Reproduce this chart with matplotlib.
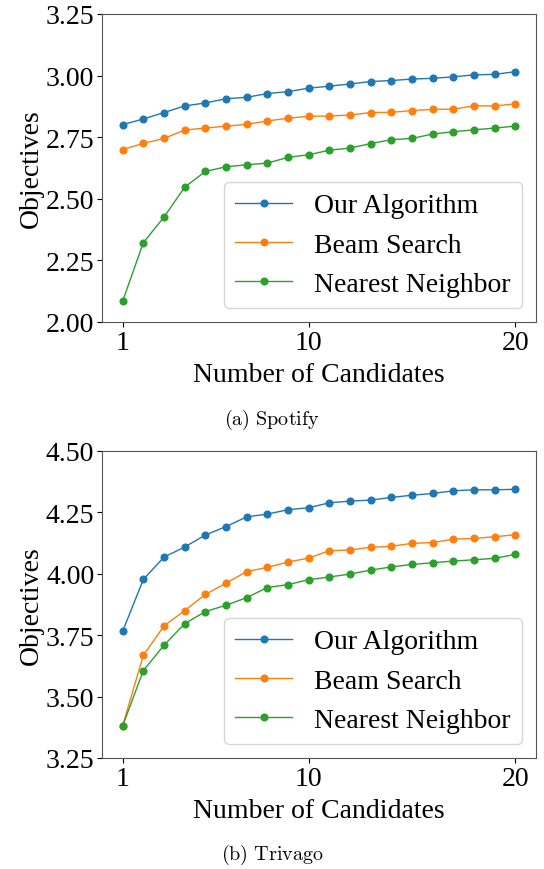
import numpy as np
import matplotlib.pyplot as plt

plt.rcParams['font.family'] = ['Liberation Serif', 'DejaVu Serif']
plt.rcParams['mathtext.fontset'] = 'cm'

candidates = list(range(1, 21))
labels = ["Our Algorithm", "Beam Search", "Nearest Neighbor"]

spotify_ours = [2.801, 2.824, 2.850, 2.877, 2.889, 2.906, 2.912, 2.927, 2.935, 2.949,
                2.957, 2.966, 2.976, 2.980, 2.986, 2.989, 2.995, 3.003, 3.005, 3.016]
spotify_beam = [2.700, 2.725, 2.745, 2.779, 2.787, 2.795, 2.802, 2.816, 2.827, 2.835,
                2.836, 2.840, 2.850, 2.851, 2.858, 2.863, 2.864, 2.877, 2.877, 2.885]
spotify_nn = [2.085, 2.322, 2.426, 2.547, 2.611, 2.630, 2.638, 2.645, 2.668, 2.679,
              2.697, 2.706, 2.724, 2.740, 2.745, 2.763, 2.772, 2.780, 2.787, 2.795]

trivago_ours = [3.766, 3.977, 4.068, 4.109, 4.158, 4.192, 4.232, 4.243, 4.261, 4.269,
                4.289, 4.296, 4.300, 4.311, 4.320, 4.327, 4.338, 4.342, 4.342, 4.344]
trivago_beam = [3.382, 3.668, 3.788, 3.850, 3.916, 3.962, 4.009, 4.026, 4.048, 4.064,
                4.094, 4.097, 4.108, 4.112, 4.124, 4.127, 4.141, 4.144, 4.151, 4.159]
trivago_nn = [3.381, 3.606, 3.709, 3.797, 3.846, 3.872, 3.903, 3.944, 3.956, 3.976,
              3.987, 3.999, 4.015, 4.028, 4.038, 4.045, 4.052, 4.057, 4.063, 4.079]

fig = plt.figure(figsize=(5.44, 8.70), dpi=100)
ax1 = fig.add_axes([102/544, 1 - 323/870, 434/544, 308/870])
ax2 = fig.add_axes([102/544, 1 - 759/870, 434/544, 307/870])

def draw(ax, series, ylim, yticks):
    for s, lab in zip(series, labels):
        ax.plot(candidates, s, marker='o', markersize=4.8, linewidth=1, label=lab)
    ax.set_ylim(*ylim)
    ax.set_yticks(yticks)
    ax.set_yticklabels(["%.2f" % t for t in yticks])
    ax.set_xlim(0.0, 21.0)
    ax.set_xticks([1, 10, 20])
    ax.tick_params(labelsize=20, pad=2)
    ax.set_xlabel("Number of Candidates", fontsize=20, labelpad=5)
    ax.set_ylabel("Objectives", fontsize=20, labelpad=1)
    ax.legend(loc='lower right', fontsize=20, handlelength=2.05, handletextpad=0.8,
              borderpad=0.4, labelspacing=0.5)
    for sp in ax.spines.values():
        sp.set_color('#555555')

draw(ax1, [spotify_ours, spotify_beam, spotify_nn], (2.0, 3.25),
     [2.00, 2.25, 2.50, 2.75, 3.00, 3.25])
draw(ax2, [trivago_ours, trivago_beam, trivago_nn], (3.25, 4.5),
     [3.25, 3.50, 3.75, 4.00, 4.25, 4.50])

fig.text(0.5, 1 - 420/870, r"$\mathrm{(a)\ Spotify}$", ha='center', va='center', fontsize=14.5)
fig.text(0.5, 1 - 855/870, r"$\mathrm{(b)\ Trivago}$", ha='center', va='center', fontsize=14.5)

fig.savefig("out.png", dpi=100)
